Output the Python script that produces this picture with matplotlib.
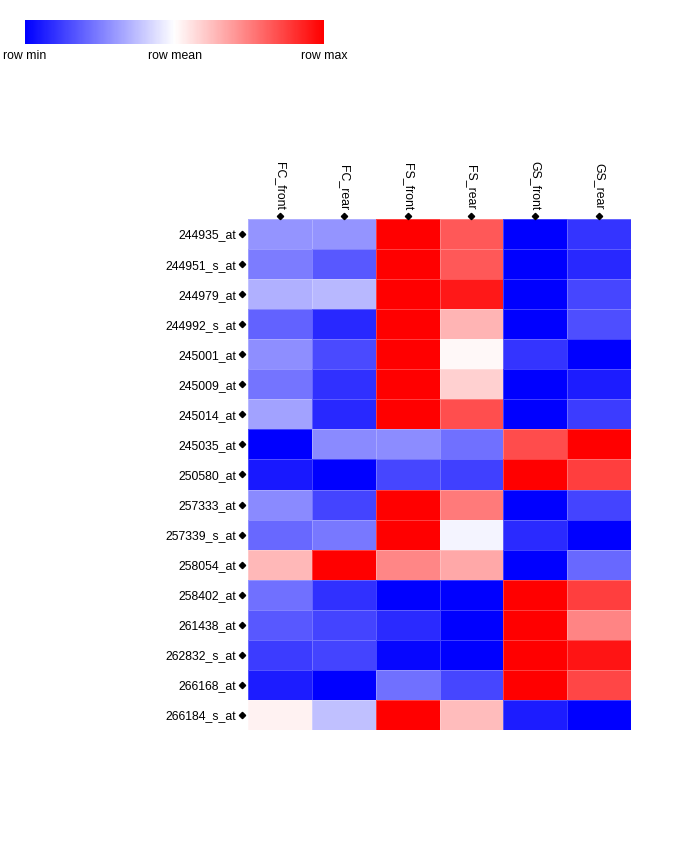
import numpy as np
import matplotlib
matplotlib.use("Agg")
import matplotlib.pyplot as plt
from matplotlib.colors import LinearSegmentedColormap

plt.rcParams['font.family'] = ['Liberation Sans', 'DejaVu Sans']

columns = ["FC_front", "FC_rear", "FS_front", "FS_rear", "GS_front", "GS_rear"]
rows = ["244935_at", "244951_s_at", "244979_at", "244992_s_at", "245001_at",
        "245009_at", "245014_at", "245035_at", "250580_at", "257333_at",
        "257339_s_at", "258054_at", "258402_at", "261438_at", "262832_s_at",
        "266168_at", "266184_s_at"]

# row-scaled values: -1 = row min, 0 = row mean, 1 = row max
fc_front = [-0.42, -0.51, -0.31, -0.61, -0.44, -0.54, -0.36, -1.00, -0.90, -0.46, -0.59, 0.28, -0.56, -0.65, -0.76, -0.89, 0.05]
fc_rear  = [-0.42, -0.65, -0.28, -0.84, -0.71, -0.81, -0.84, -0.46, -1.00, -0.73, -0.53, 1.00, -0.81, -0.73, -0.73, -1.00, -0.25]
fs_front = [1.00, 1.00, 1.00, 1.00, 1.00, 1.00, 1.00, -0.45, -0.72, 1.00, 1.00, 0.47, -1.00, -0.83, -0.97, -0.56, 1.00]
fs_rear  = [0.65, 0.65, 0.90, 0.29, 0.03, 0.18, 0.69, -0.56, -0.75, 0.52, -0.04, 0.34, -1.00, -1.00, -1.00, -0.72, 0.26]
gs_front = [-1.00, -1.00, -1.00, -1.00, -0.79, -1.00, -1.00, 0.70, 1.00, -1.00, -0.83, -1.00, 1.00, 1.00, 1.00, 1.00, -0.89]
gs_rear  = [-0.79, -0.84, -0.72, -0.69, -1.00, -0.89, -0.76, 1.00, 0.75, -0.73, -1.00, -0.59, 0.75, 0.48, 0.92, 0.72, -1.00]

data = np.array([fc_front, fc_rear, fs_front, fs_rear, gs_front, gs_rear]).T

legend_labels = ["row min", "row mean", "row max"]

cmap = LinearSegmentedColormap.from_list("bwr_", ["#0000ff", "#ffffff", "#ff0000"])

W, H = 684, 858
fig = plt.figure(figsize=(W / 100, H / 100), dpi=100)

# heatmap
ax = fig.add_axes([248 / W, 1 - 730 / H, 383 / W, 511 / H])
nr, nc = data.shape
ax.pcolormesh(np.arange(nc + 1) - 0.5, np.arange(nr + 1) - 0.5, data, cmap=cmap,
              vmin=-1, vmax=1, edgecolors=(1, 1, 1, 0.25), linewidth=0.6)
ax.set_xlim(-0.5, nc - 0.5)
ax.set_ylim(nr - 0.5, -0.5)
for s in ax.spines.values():
    s.set_visible(False)

ax.set_yticks(np.arange(nr))
ax.set_yticklabels(rows, fontsize=8.8)
ax.xaxis.tick_top()
ax.set_xticks(np.arange(nc))
ax.set_xticklabels(columns, fontsize=8.8, rotation=270)
ax.tick_params(axis='y', length=0, pad=8.5)
ax.tick_params(axis='x', length=0, pad=6.5)

# diamond markers next to labels
ax.plot(np.full(nr, -0.5 - 0.1), np.arange(nr), linestyle='none', marker='D',
        markersize=3.2, color='black', clip_on=False)
ax.plot(np.arange(nc), np.full(nc, -0.5 - 0.09), linestyle='none', marker='D',
        markersize=3.2, color='black', clip_on=False)

# color legend bar
cax = fig.add_axes([25 / W, 1 - 44 / H, 299 / W, 24 / H])
grad = np.linspace(-1, 1, 300).reshape(1, -1)
cax.imshow(grad, aspect='auto', cmap=cmap, vmin=-1, vmax=1, extent=[0, 1, 0, 1])
cax.set_axis_off()
for xpos, lab in zip([0, 0.5, 1], legend_labels):
    cax.text(xpos, -0.25, lab, ha='center', va='top', fontsize=8.8,
             transform=cax.transAxes)

fig.savefig("out.png", dpi=100)
